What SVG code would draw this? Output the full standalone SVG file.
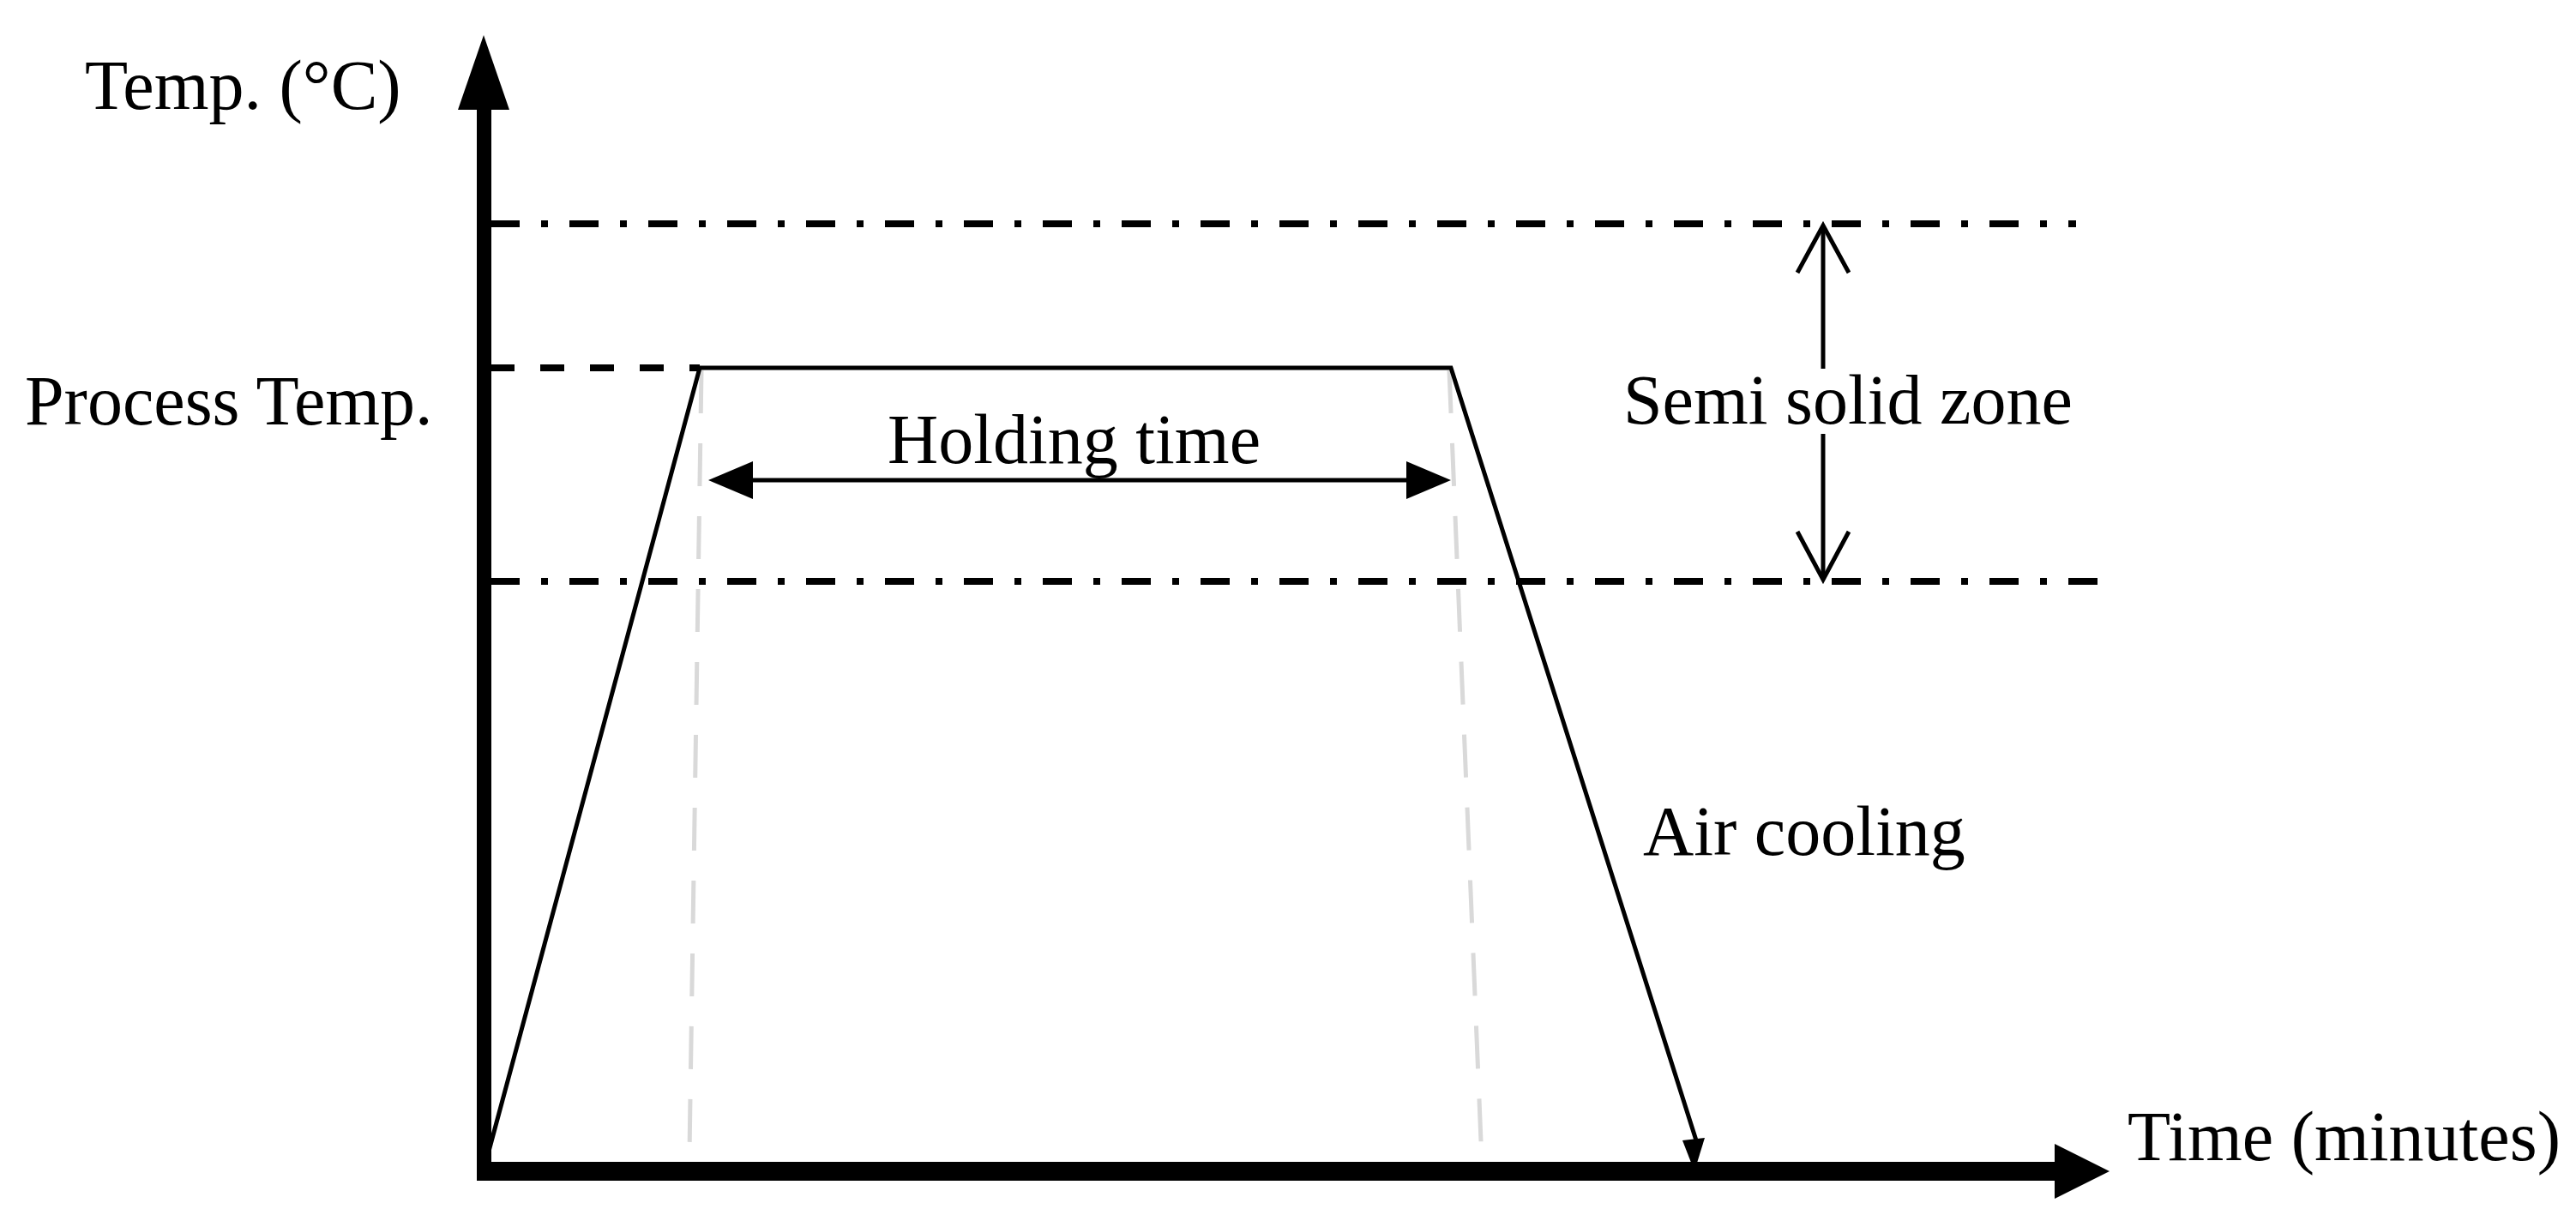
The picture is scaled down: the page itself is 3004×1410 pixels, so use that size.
<svg xmlns="http://www.w3.org/2000/svg" width="3004" height="1410" viewBox="0 0 3004 1410">
<style>
text{font-family:"Liberation Serif","Times New Roman",serif;font-size:82px;fill:#000}
.dd{stroke:#000;stroke-width:8;stroke-dasharray:34 25 8 25;fill:none}
.gr{stroke:#d9d9d9;stroke-width:5;stroke-dasharray:50 35;fill:none}
.ln{stroke:#000;stroke-width:5;fill:none}
</style>
<rect width="3004" height="1410" fill="#fff"/>
<g id="guides">
<line class="gr" x1="818" y1="432" x2="804" y2="1345"/>
<line class="gr" x1="1690" y1="432" x2="1728" y2="1355"/>
<line class="dd" x1="572" y1="261" x2="2421" y2="261"/>
<line class="dd" x1="572" y1="678" x2="2459" y2="678"/>
<line x1="572" y1="429" x2="816" y2="429" stroke="#000" stroke-width="8" stroke-dasharray="28 30"/>
</g>
<g id="connectors">
<polyline class="ln" points="568,1350 816,429 1692,429 1978,1330" stroke-width="6"/>
<polygon points="1988,1327 1976,1366 1962,1330" fill="#000"/>
<line class="ln" x1="870" y1="560" x2="1650" y2="560"/>
<polygon points="826,560 878,538 878,582" fill="#000"/>
<polygon points="1692,560 1640,538 1640,582" fill="#000"/>
<line class="ln" x1="2126" y1="263" x2="2126" y2="430" stroke-width="4"/>
<line class="ln" x1="2126" y1="506" x2="2126" y2="676" stroke-width="4"/>
<polyline class="ln" points="2096,318 2126,263 2156,318" stroke-width="4"/>
<polyline class="ln" points="2096,620 2126,676 2156,620" stroke-width="4"/>
</g>
<g id="axes">
<rect x="556" y="120" width="17" height="1257"/>
<polygon points="564,41 534,128 594,128" fill="#000"/>
<rect x="556" y="1355" width="1842" height="22"/>
<polygon points="2460,1366 2396,1334 2396,1398" fill="#000"/>
</g>
<g id="labels">
<text x="99" y="127">Temp. (°C)</text>
<text x="29" y="495">Process Temp.</text>
<text x="1035" y="540">Holding time</text>
<text x="1893" y="494">Semi solid zone</text>
<text x="1916" y="997">Air cooling</text>
<text x="2481" y="1353">Time (minutes)</text>
</g>
</svg>
